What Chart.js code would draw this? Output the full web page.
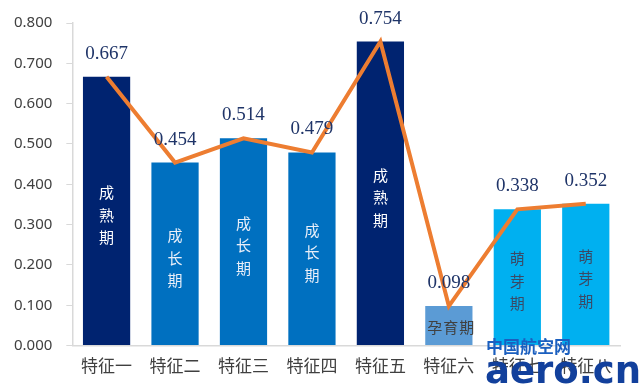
<!DOCTYPE html>
<html lang="zh">
<head>
<meta charset="UTF-8" />
<title>特征值</title>
<style>
  html, body { margin: 0; padding: 0; background: #fff; }
  .box { width: 640px; height: 392px; position: relative; }
</style>
</head>
<body>
<div class="box"><canvas id="myChart"></canvas></div>
<script src="https://cdn.jsdelivr.net/npm/chart.js@4.4.0/dist/chart.umd.min.js"></script>
<script>
const categories = ['特征一', '特征二', '特征三', '特征四', '特征五', '特征六', '特征七', '特征八'];
const values = [0.667, 0.454, 0.514, 0.479, 0.754, 0.098, 0.338, 0.352];
const stages = ['成熟期', '成长期', '成长期', '成长期', '成熟期', '孕育期', '萌芽期', '萌芽期'];
const barColors = ['#002370', '#0070c0', '#0070c0', '#0070c0', '#002370', '#5b9bd5', '#00b0f0', '#00b0f0'];
const stageColors = ['#ffffff', '#e8eef8', '#e8eef8', '#e8eef8', '#ffffff', '#404040', '#3a4a66', '#3a4a66'];
const yTicks = [0, 0.1, 0.2, 0.3, 0.4, 0.5, 0.6, 0.7, 0.8];

// value labels above bars + stage text inside bars
const labelPlugin = {
  id: 'labels',
  afterDatasetsDraw(chart) {
    const ctx = chart.ctx;
    const meta = chart.getDatasetMeta(1); // bar dataset
    ctx.save();
    meta.data.forEach((bar, i) => {
      // stage text
      const mid = (bar.y + bar.base) / 2;
      ctx.fillStyle = stageColors[i];
      ctx.textAlign = 'center';
      ctx.textBaseline = 'middle';
      ctx.font = '15px "Noto Sans CJK SC"';
      const chars = stages[i].split('');
      if (stages[i] === '孕育期') {
        // horizontal, a little spaced
        chars.forEach((c, k) => {
          ctx.fillText(c, bar.x + 2 + (k - 1) * 16, mid + 2);
        });
      } else {
        chars.forEach((c, k) => {
          ctx.fillText(c, bar.x, mid + 4 + (k - 1) * 22.5);
        });
      }
      // value label
      ctx.font = '19px "Liberation Serif"';
      ctx.fillStyle = '#1f3468';
      ctx.fillText(values[i].toFixed(3), bar.x, bar.y - 23);
    });
    ctx.restore();
  },
  afterDraw(chart) {
    // watermark
    const ctx = chart.ctx;
    ctx.save();
    ctx.textBaseline = 'middle';
    ctx.textAlign = 'left';
    ctx.fillStyle = '#1b5fbf';
    ctx.font = 'bold 17px "Noto Sans CJK SC"';
    ctx.fillText('中国航空网', 486, 347);
    ctx.fillStyle = '#12409c';
    ctx.font = 'bold 37px "DejaVu Sans"';
    ctx.fillText('aero.cn', 485, 373);
    ctx.restore();
  }
};

const ctx = document.getElementById('myChart');
new Chart(ctx, {
  data: {
    labels: categories,
    datasets: [
      {
        type: 'line',
        data: values,
        borderColor: '#ed7d31',
        borderWidth: 4,
        pointRadius: 0,
        tension: 0,
        order: 0
      },
      {
        type: 'bar',
        data: values,
        backgroundColor: barColors,
        categoryPercentage: 1,
        barPercentage: 0.69,
        order: 1
      }
    ]
  },
  options: {
    responsive: true,
    maintainAspectRatio: false,
    animation: false,
    layout: { padding: { top: 10, right: 20, left: 0, bottom: 14 } },
    plugins: { legend: { display: false }, tooltip: { enabled: false } },
    scales: {
      x: {
        grid: { display: false },
        border: { color: '#d9d9d9', width: 1.5 },
        ticks: { color: '#404040', font: { family: '"Noto Sans CJK SC"', size: 17 }, padding: 2 }
      },
      y: {
        min: 0,
        max: 0.8,
        afterBuildTicks(axis) { axis.ticks = yTicks.map(v => ({ value: v })); },
        grid: { drawOnChartArea: false, drawTicks: true, tickLength: 6, color: '#d9d9d9' },
        border: { color: '#d9d9d9', width: 1.5 },
        ticks: {
          color: '#404040',
          font: { family: '"Noto Sans"', size: 15 },
          padding: 14,
          callback: v => Number(v).toFixed(3)
        }
      }
    }
  },
  plugins: [labelPlugin]
});
</script>
</body>
</html>
